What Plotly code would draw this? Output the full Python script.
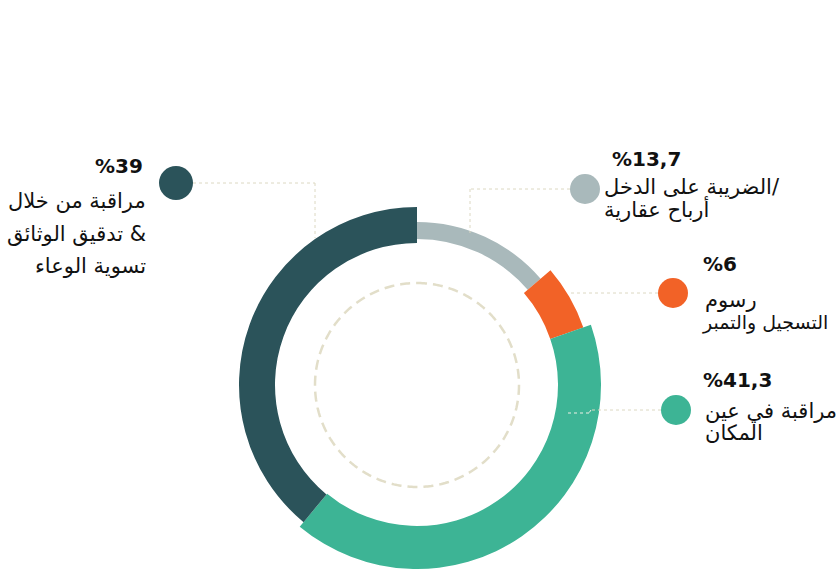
import numpy as np
import plotly.graph_objects as go

# Shares of the four control / revenue categories (percent)
categories = ["الضريبة على الدخل/ أرباح عقارية", "رسوم التسجيل والتمبر",
              "مراقبة في عين المكان", "مراقبة من خلال تدقيق الوثائق & تسوية الوعاء"]
values = [13.7, 6.0, 41.3, 39.0]
value_labels = ["%13,7", "%6", "%41,3", "%39"]
colors = ["#a9b9bb", "#f26227", "#3db495", "#2b535a"]
# ring band for each segment: inner radius and thickness (radial-axis units)
ring_base = [146, 141, 141, 142]
ring_thick = [17, 35, 43, 36]

W, H = 838, 572
CX, CY, R = 417, 385, 185  # ring centre and radial extent in pixels

widths = [v * 3.6 for v in values]
starts = np.concatenate([[0], np.cumsum(widths)[:-1]])
centers = starts + np.array(widths) / 2

fig = go.Figure()
fig.add_trace(go.Barpolar(
    theta=centers, width=widths, base=ring_base, r=ring_thick,
    marker=dict(color=colors, line=dict(width=0)),
    hoverinfo="skip", showlegend=False,
))

# dashed guide circle inside the ring
circ_t = np.linspace(0, 360, 361)
fig.add_trace(go.Scatterpolar(
    theta=circ_t, r=[102] * len(circ_t), mode="lines",
    line=dict(color="#e2dec9", width=2.5, dash="10px,6px"),
    hoverinfo="skip", showlegend=False,
))

fig.update_layout(
    width=W, height=H, margin=dict(l=0, r=0, t=0, b=0),
    paper_bgcolor="white", plot_bgcolor="white",
    polar=dict(
        domain=dict(x=[(CX - R) / W, (CX + R) / W],
                    y=[(H - CY - R) / H, (H - CY + R) / H]),
        bgcolor="white", hole=0,
        radialaxis=dict(range=[0, R], visible=False, showgrid=False),
        angularaxis=dict(direction="clockwise", rotation=90, visible=False,
                         showgrid=False),
    ),
)


def px(x, y):
    return x / W, 1 - y / H


shapes = []
lead = "#dcd8c2"


def seg(x0, y0, x1, y1, col=lead):
    a0, b0 = px(x0, y0)
    a1, b1 = px(x1, y1)
    shapes.append(dict(type="line", xref="paper", yref="paper",
                       x0=a0, y0=b0, x1=a1, y1=b1,
                       line=dict(color=col, width=1, dash="dot")))


# leader lines from the markers to the ring
seg(193, 183, 315, 183)
seg(315, 183, 315, 238)
seg(570, 189, 470, 189)
seg(470, 189, 470, 233)
seg(658, 293, 568, 293)
seg(661, 410, 591, 410)
seg(591, 410, 589, 413, "#f0f0e6")
seg(589, 413, 567, 413, "#f0f0e6")

# colour markers next to each label
markers = [(585, 189, 15), (673, 293, 15), (676, 410, 15), (176, 183, 17)]
for (mx, my, mr), col in zip(markers, colors):
    a0, b0 = px(mx - mr, my - mr)
    a1, b1 = px(mx + mr, my + mr)
    shapes.append(dict(type="circle", xref="paper", yref="paper",
                       x0=a0, y0=b1, x1=a1, y1=b0,
                       fillcolor=col, line=dict(width=0)))
fig.update_layout(shapes=shapes)

num_font = dict(family="DejaVu Sans", size=20, color="#111111")
txt_font = dict(family="DejaVu Sans", size=21, color="#111111")
narrow_font = dict(family="DejaVu Sans", size=19, color="#111111")


def label(text, x, y, anchor, font):
    a, b = px(x, y)
    fig.add_annotation(text=text, x=a, y=b, xref="paper", yref="paper",
                       xanchor=anchor, yanchor="middle", showarrow=False,
                       font=font)


# grey segment
label("<b>" + value_labels[0] + "</b>", 610, 159, "left", num_font)
label("الضريبة على الدخل/", 602, 187, "left", txt_font)
label("أرباح عقارية", 602, 209, "left", txt_font)
# orange segment
label("<b>" + value_labels[1] + "</b>", 701, 264, "left", num_font)
label("رسوم", 703, 300, "left", txt_font)
label("التسجيل والتمبر", 700, 322, "left", narrow_font)
# green segment
label("<b>" + value_labels[2] + "</b>", 701, 380, "left", num_font)
label("مراقبة في عين", 703, 411, "left", txt_font)
label("المكان", 703, 433, "left", txt_font)
# dark segment
label("<b>" + value_labels[3] + "</b>", 145, 166, "right", num_font)
label("مراقبة من خلال", 148, 201, "right", txt_font)
label("تدقيق الوثائق &", 148, 234, "right", txt_font)
label("تسوية الوعاء", 148, 266, "right", txt_font)

fig.write_html("out.html")
